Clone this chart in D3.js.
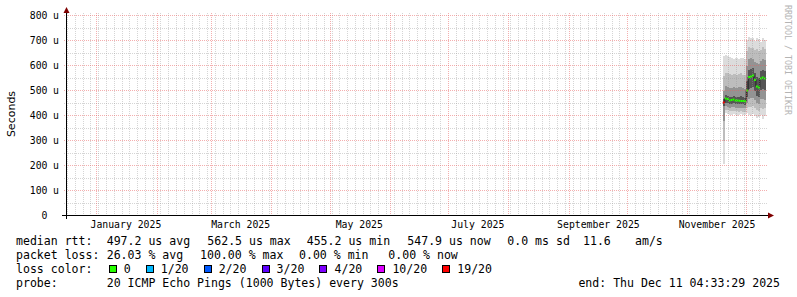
<!DOCTYPE html>
<html>
<head>
<meta charset="utf-8">
<script src="https://cdn.jsdelivr.net/npm/d3@7"></script>
<style>
  html, body { margin: 0; padding: 0; background: #fff; }
  svg { display: block; }
  text { font-family: "DejaVu Sans Mono", monospace; fill: #000; }
</style>
</head>
<body>
<svg id="chart" width="797" height="297"></svg>
<script>
// smokeping 360 day graph - values in microseconds
const endTime = "2025-12-11T04:33:29Z";
const spanDays = 360;
const minorGridFrom = "2024-12-17";

// one consolidated row per day
const days = ["2025-11-19", "2025-11-20", "2025-11-21", "2025-11-22", "2025-11-23", "2025-11-24",
  "2025-11-25", "2025-11-26", "2025-11-27", "2025-11-28", "2025-11-29", "2025-11-30",
  "2025-12-01", "2025-12-02", "2025-12-03", "2025-12-04", "2025-12-05", "2025-12-06",
  "2025-12-07", "2025-12-08", "2025-12-09", "2025-12-10"];
const median = [452, 468, 466, 460, 462, 464, 460, 460, 459, 458, 458, 457, 500, 554, 556, 560, 542, 516, 512, 548, 552, 548];
const lost   = [19, 0, 0, 0, 0, 0, 0, 0, 0, 0, 0, 0, 0, 0, 0, 0, 0, 0, 0, 0, 0, 0];
const pMax = [640, 642, 640, 636, 630, 628, 632, 630, 628, 632, 630, 626, 704, 714, 712, 710, 700, 712, 708, 696, 712, 704];
const p90  = [560, 572, 570, 566, 562, 566, 568, 564, 566, 570, 564, 562, 660, 676, 672, 670, 664, 668, 660, 662, 674, 668];
const p75  = [500, 518, 516, 512, 510, 514, 512, 510, 514, 516, 512, 508, 600, 626, 630, 628, 616, 612, 606, 620, 628, 622];
const p60  = [465, 482, 480, 476, 476, 478, 476, 474, 476, 478, 474, 472, 540, 584, 586, 590, 572, 556, 552, 580, 584, 580];
const p40  = [440, 452, 450, 446, 448, 450, 446, 446, 446, 446, 446, 444, 476, 508, 512, 514, 500, 480, 476, 504, 508, 504];
const p25  = [380, 438, 436, 432, 434, 436, 432, 432, 432, 432, 430, 430, 452, 468, 470, 472, 464, 450, 446, 466, 468, 464];
const p10  = [300, 424, 422, 418, 420, 420, 418, 418, 416, 418, 416, 416, 430, 436, 434, 438, 430, 424, 420, 432, 428, 430];
const pMin = [208, 410, 406, 404, 402, 408, 404, 400, 404, 406, 402, 404, 412, 404, 398, 408, 400, 392, 396, 404, 388, 400];

const yTicks = [0, 100, 200, 300, 400, 500, 600, 700, 800];
const monthLabels = ["2025-01-01", "2025-03-01", "2025-05-01", "2025-07-01", "2025-09-01", "2025-11-01"];

const lossSteps  = [0, 1, 2, 3, 4, 10, 19];
const lossLabels = ["0", "1/20", "2/20", "3/20", "4/20", "10/20", "19/20"];
const lossColors = ["#26ff00", "#00b8ff", "#0059ff", "#5e00ff", "#7e00ff", "#dd00ff", "#ff0000"];

const rttItems  = ["497.2 us avg", "562.5 us max", "455.2 us min", "547.9 us now", "0.0 ms sd", "11.6", "am/s"];
const lossItems = ["26.03 % avg", "100.00 % max", "0.00 % min", "0.00 % now"];
const probeText = "20 ICMP Echo Pings (1000 Bytes) every 300s";
const endText   = "end: Thu Dec 11 04:33:29 2025";

// ---- scales
const end = new Date(endTime);
const start = d3.utcDay.offset(end, -spanDays);
const x = d3.scaleUtc().domain([start, end]).range([66, 766]);
const y = d3.scaleLinear().domain([0, 800]).range([215.5, 15.5]);
const snap = v => Math.floor(v) + 0.5;

const svg = d3.select('#chart');
const rows = days.map((d, i) => ({
  t0: new Date(d + "T00:00:00Z"),
  t1: d3.utcDay.offset(new Date(d + "T00:00:00Z"), 1),
  med: median[i], lost: lost[i],
  bands: [[pMin[i], pMax[i]], [p10[i], p90[i]], [p25[i], p75[i]], [p40[i], p60[i]]]
}));
rows.forEach(r => { if (r.t1 > end) r.t1 = end; });

// ---- smoke
const smokeShades = ["#dcdcdc", "#bdbdbd", "#939393", "#555555"];
const smoke = svg.append('g').attr('shape-rendering', 'crispEdges');
smokeShades.forEach((shade, b) => {
  smoke.append('g').selectAll('rect')
    .data(rows)
    .enter().append('rect')
    .attr('x', d => x(d.t0))
    .attr('width', d => x(d.t1) - x(d.t0))
    .attr('y', d => y(d.bands[b][1]))
    .attr('height', d => y(d.bands[b][0]) - y(d.bands[b][1]))
    .attr('fill', shade);
});

// median line, then loss coloured bars
const medLine = d3.line()
  .x(d => x(d.t))
  .y(d => y(d.v))
  .curve(d3.curveStepAfter);
const medPts = rows.map(r => ({t: r.t0, v: r.med}));
medPts.push({t: rows[rows.length - 1].t1, v: rows[rows.length - 1].med});
svg.append('path')
  .attr('d', medLine(medPts))
  .attr('fill', 'none')
  .attr('stroke', '#202020')
  .attr('stroke-width', 1);

const lossColor = n => {
  let c = lossColors[0];
  lossSteps.forEach((s, i) => { if (n >= s) c = lossColors[i]; });
  return c;
};
const swidth = 800 / 200;
svg.append('g').selectAll('rect')
  .data(rows)
  .enter().append('rect')
  .attr('x', d => x(d.t0))
  .attr('width', d => x(d.t1) - x(d.t0))
  .attr('y', d => y(d.med + swidth))
  .attr('height', d => y(d.med - swidth) - y(d.med + swidth))
  .attr('fill', d => lossColor(d.lost));

// ---- grid (rrdtool paints it over the graph)
const grid = svg.append('g').attr('shape-rendering', 'crispEdges');
const minorCol = 'rgba(150,150,150,0.4)';
const majorCol = 'rgba(233,95,95,0.5)';
const months = d3.utcMonth.range(start, end);
const minorDays = d3.utcDay.range(new Date(minorGridFrom + "T00:00:00Z"), end, 4)
  .filter(t => months.every(m => Math.abs(x(m) - x(t)) > 1));

grid.selectAll('.vminor')
  .data(minorDays)
  .enter().append('line')
  .attr('x1', d => snap(x(d))).attr('x2', d => snap(x(d)))
  .attr('y1', 13).attr('y2', 217)
  .attr('stroke', minorCol).attr('stroke-dasharray', '1,1');

grid.selectAll('.hminor')
  .data(d3.range(50, 800, 100))
  .enter().append('line')
  .attr('x1', 64).attr('x2', 768)
  .attr('y1', d => snap(y(d))).attr('y2', d => snap(y(d)))
  .attr('stroke', minorCol).attr('stroke-dasharray', '1,1');

grid.selectAll('.vmajor')
  .data(months)
  .enter().append('line')
  .attr('x1', d => snap(x(d))).attr('x2', d => snap(x(d)))
  .attr('y1', 13).attr('y2', 217)
  .attr('stroke', majorCol).attr('stroke-dasharray', '1,1');

grid.selectAll('.hmajor')
  .data(yTicks.slice(1))
  .enter().append('line')
  .attr('x1', 64).attr('x2', 768)
  .attr('y1', d => y(d)).attr('y2', d => y(d))
  .attr('stroke', majorCol).attr('stroke-dasharray', '1,1');

// ---- axes and arrows
const axisCol = '#000';
const x0 = 66.5, y0 = y(0);
svg.append('line').attr('x1', 62).attr('x2', 770).attr('y1', y0).attr('y2', y0)
  .attr('stroke', axisCol).attr('shape-rendering', 'crispEdges');
svg.append('line').attr('x1', x0).attr('x2', x0).attr('y1', 219).attr('y2', 11)
  .attr('stroke', axisCol).attr('shape-rendering', 'crispEdges');
svg.append('path').attr('d', `M768,${y0 - 3}L768,${y0 + 3}L774,${y0}Z`).attr('fill', '#7f0000');
svg.append('path').attr('d', `M${x0 - 3},13L${x0 + 3},13L${x0},7Z`).attr('fill', '#7f0000');

// y labels
const yl = svg.append('g').style('font-size', '9.8px');
yl.selectAll('.num')
  .data(yTicks)
  .enter().append('text')
  .attr('x', 47.5).attr('y', d => y(d) + 3.6)
  .attr('text-anchor', 'end')
  .text(d => d);
yl.selectAll('.unit')
  .data(yTicks.filter(d => d > 0))
  .enter().append('text')
  .attr('x', 53).attr('y', d => y(d) + 3.6)
  .text('u');

// month labels centred in their month
const fmtMonth = d3.utcFormat('%B %Y');
svg.append('g').style('font-size', '9.8px')
  .selectAll('text')
  .data(monthLabels.map(m => new Date(m + "T00:00:00Z")))
  .enter().append('text')
  .attr('x', d => x(d3.utcDay.offset(d, 15)))
  .attr('y', 228)
  .attr('text-anchor', 'middle')
  .text(d => fmtMonth(d));

// unit label and watermark
svg.append('text')
  .attr('transform', 'translate(15,114) rotate(-90)')
  .attr('text-anchor', 'middle')
  .style('font-family', '"DejaVu Sans", sans-serif')
  .style('font-size', '11px')
  .text('Seconds');
svg.append('text')
  .attr('transform', 'translate(785,5) rotate(90)')
  .style('font-size', '8.3px')
  .style('fill', '#b4b4b4')
  .text('RRDTOOL / TOBI OETIKER');

// ---- legend
const legend = svg.append('g').style('font-size', '11.55px');
const rttX = [106.7, 207.3, 306.7, 407.3, 507.3, 583, 635];
const lossX = [106.7, 200, 299, 388.3];
legend.append('text').attr('x', 16).attr('y', 245).text('median rtt:');
rttItems.forEach((t, i) => legend.append('text').attr('x', rttX[i]).attr('y', 245).text(t));
legend.append('text').attr('x', 16).attr('y', 259).text('packet loss:');
lossItems.forEach((t, i) => legend.append('text').attr('x', lossX[i]).attr('y', 259).text(t));

legend.append('text').attr('x', 16).attr('y', 273).text('loss color:');
let bx = 108.7;
lossLabels.forEach((lab, i) => {
  legend.append('rect')
    .attr('x', bx + 0.5).attr('y', 265.5).attr('width', 7).attr('height', 7)
    .attr('fill', lossColors[i]).attr('stroke', '#000').attr('stroke-width', 1)
    .attr('shape-rendering', 'crispEdges');
  const t = legend.append('text').attr('x', bx + 15).attr('y', 273).text(lab);
  bx += 15 + t.node().getComputedTextLength() + 15.1;
});

legend.append('text').attr('x', 16).attr('y', 287).text('probe:');
legend.append('text').attr('x', 106.7).attr('y', 287).text(probeText);
legend.append('text').attr('x', 780).attr('y', 287).attr('text-anchor', 'end').text(endText);
</script>
</body>
</html>
